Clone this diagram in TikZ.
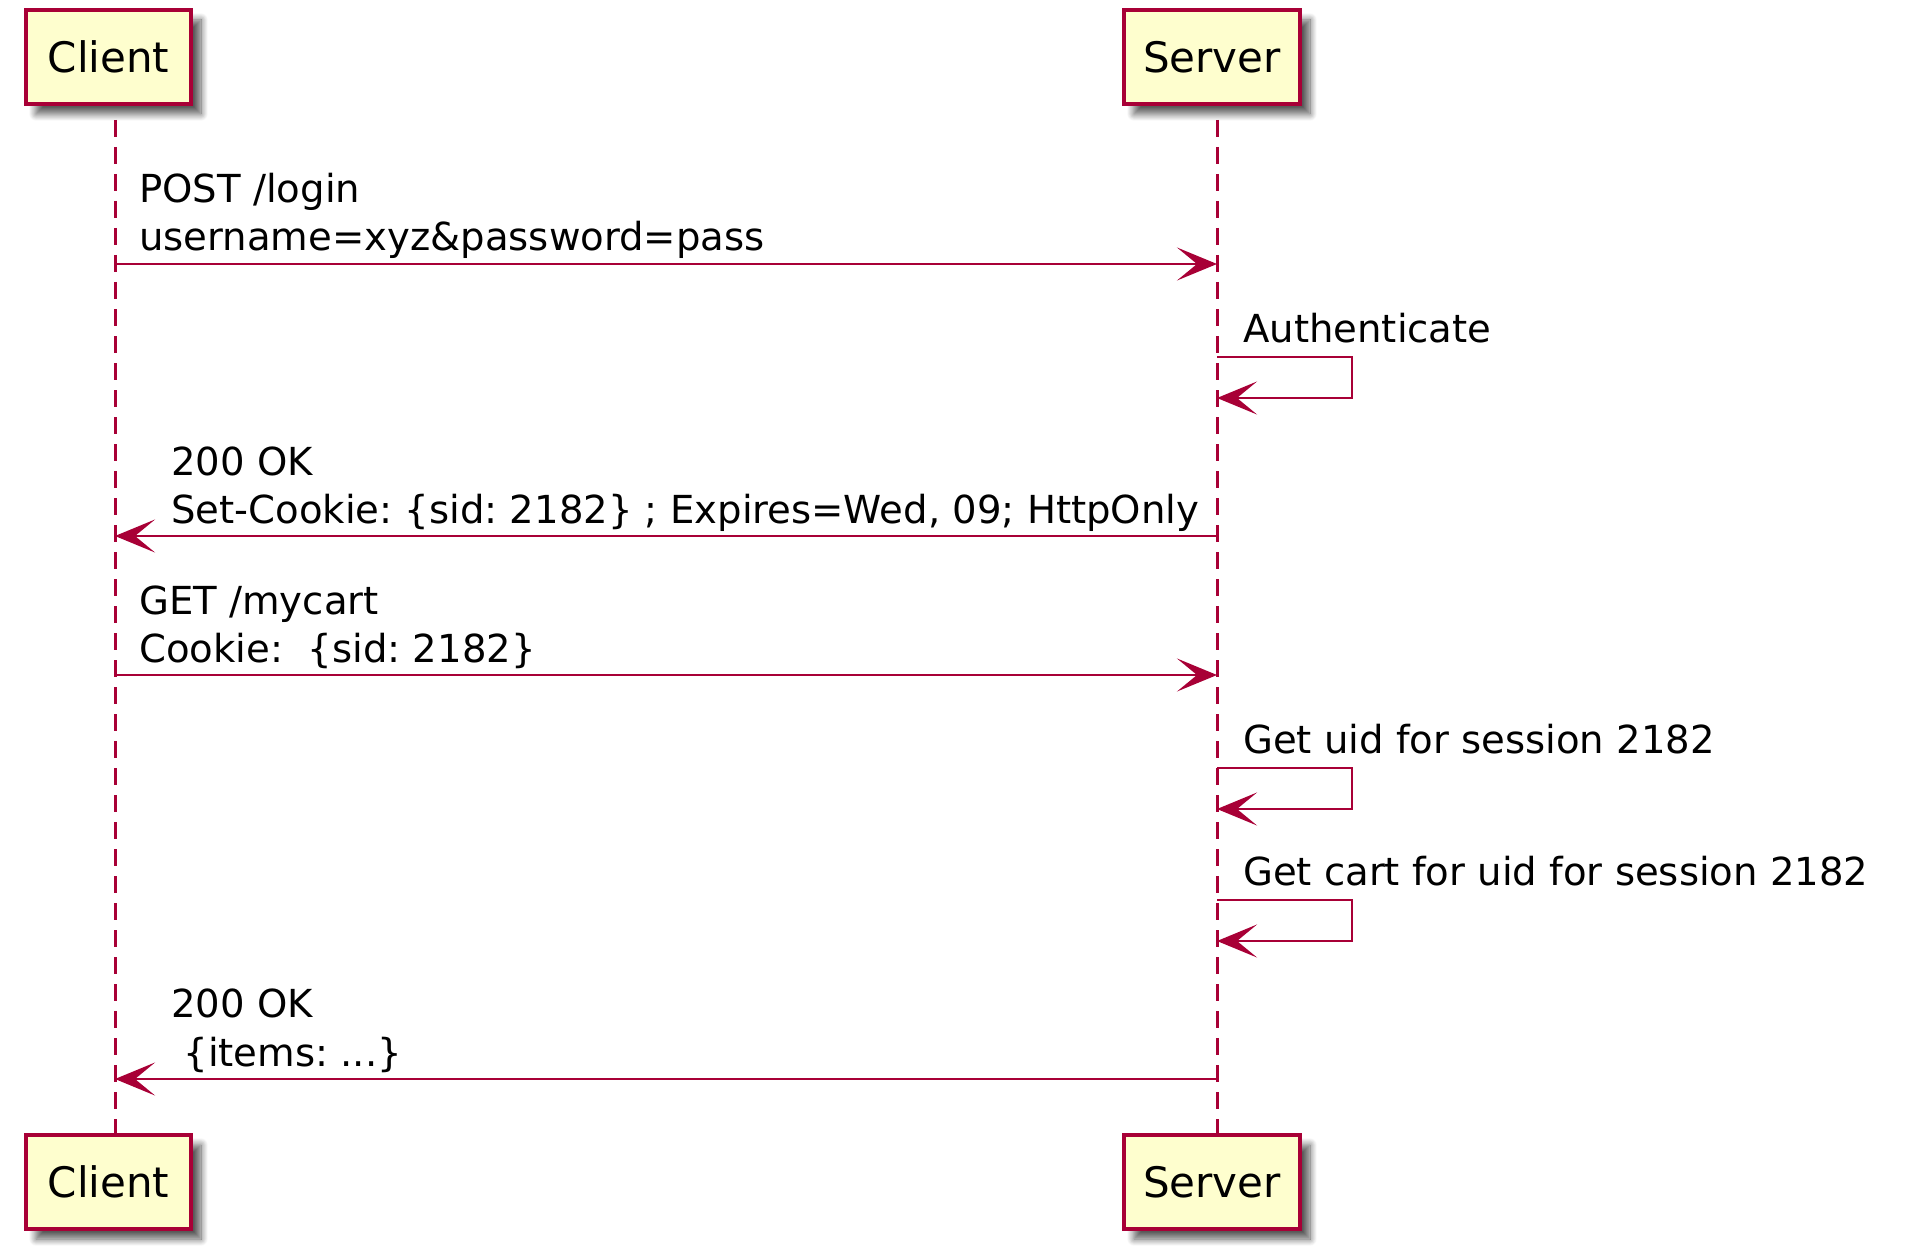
\documentclass[tikz,border=0pt]{standalone}
\usepackage{fontspec}
\setmainfont{DejaVu Sans}
\usetikzlibrary{arrows.meta, backgrounds, shadows.blur}
\definecolor{pumlred}{HTML}{A80036}
\definecolor{pumlfill}{HTML}{FEFECE}
\frenchspacing
\tikzset{
    pbox/.style={draw=pumlred,fill=pumlfill,line width=4pt,minimum height=94pt,inner sep=0pt,
        font=\fontsize{42}{50}\selectfont,
        blur shadow={shadow xshift=10pt,shadow yshift=-10pt,shadow blur radius=7pt,
            shadow blur steps=12,shadow opacity=65}},
    tt/.style={anchor=base west,inner sep=0pt,font=\fontsize{38.6}{48}\selectfont},
    lline/.style={draw=pumlred,line width=3pt,dash pattern=on 17pt off 10pt},
    msg/.style={draw=pumlred,line width=2.7pt,
        -{Stealth[length=40pt 0,width=33pt 0,inset=20pt 0]}},
}

\begin{document}
\begin{tikzpicture}[x=1pt,y=-1pt]
\def\cx{115}
\def\sx{1217}
\useasboundingbox (0,0) rectangle (1915,1260);
\node[pbox,minimum width=165pt] (ct) at (108.5,57) {Client};
\node[pbox,minimum width=176pt] (st) at (1212,57) {Server};
\node[pbox,minimum width=165pt] (cb) at (108.5,1182) {Client};
\node[pbox,minimum width=176pt] (sb) at (1212,1182) {Server};
% points on the lifelines
\coordinate (c0) at (\cx,120);  \coordinate (s0) at (\sx,120);
\coordinate (c1) at (\cx,264);  \coordinate (s1) at (\sx,264);
\coordinate (s2a) at (\sx,357); \coordinate (s2b) at (\sx,398);
\coordinate (c3) at (\cx,536);  \coordinate (s3) at (\sx,536);
\coordinate (c4) at (\cx,675);  \coordinate (s4) at (\sx,675);
\coordinate (s5a) at (\sx,768); \coordinate (s5b) at (\sx,809);
\coordinate (s6a) at (\sx,900); \coordinate (s6b) at (\sx,941);
\coordinate (c7) at (\cx,1079); \coordinate (s7) at (\sx,1079);
% labels
\node[tt] (m1a) at (139,203) {POST /login};
\node[tt] (m1b) at (139,251) {username=xyz\&password=pass};
\node[tt] (m2) at (1243,342) {Authenticate};
\node[tt] (m3a) at (171,475) {200 OK};
\node[tt] (m3b) at (171,523) {Set-Cookie: \{sid: 2182\} ; Expires=Wed, 09; HttpOnly};
\node[tt] (m4a) at (139,614) {GET /mycart};
\node[tt] (m4b) at (139,662) {Cookie: \ \{sid: 2182\}};
\node[tt] (m5) at (1243,753) {Get uid for session 2182};
\node[tt] (m6) at (1243,885) {Get cart for uid for session 2182};
\node[tt] (m7a) at (171,1017) {200 OK};
\node[tt] (m7b) at (171,1066) {\ \{items: ...\}};
\path
    (c1) edge[msg] (s1)
    (s3) edge[msg] (c3)
    (c4) edge[msg] (s4)
    (s7) edge[msg] (c7)
;
\draw[msg] (s2a) -- ++(135,0) |- (s2b);
\draw[msg] (s5a) -- ++(135,0) |- (s5b);
\draw[msg] (s6a) -- ++(135,0) |- (s6b);
\scoped[on background layer]{
    \draw[lline] (c0) -- (cb.north -| c0);
    \draw[lline] (s0) -- (sb.north -| s0);
}
\end{tikzpicture}
\end{document}
